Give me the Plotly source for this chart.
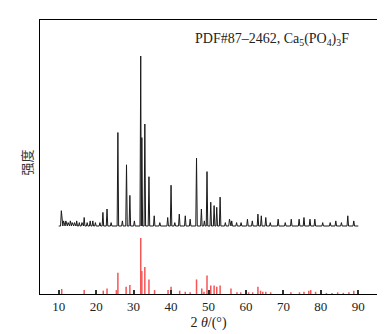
import plotly.graph_objects as go

# Measured XRD pattern: peak positions (2θ, °) and relative intensities (%)
meas_pos = [10.7, 11.3, 11.9, 12.5, 13.1, 13.6, 14.2, 14.8, 15.5, 16.2, 16.8, 17.6, 18.4, 19.1, 19.8,
            21.0, 21.8, 22.9, 24.0, 25.8, 27.0, 28.1, 29.0, 30.2, 31.9, 32.2, 33.0, 34.1, 35.5,
            37.0, 39.1, 40.0, 41.0, 42.2, 43.8, 45.1, 46.8, 48.1, 48.9, 49.6, 50.6, 51.5, 52.2,
            53.1, 54.5, 55.6, 56.2, 57.5, 58.7, 60.4, 61.7, 63.2, 64.1, 65.3, 66.5, 68.6, 70.5,
            72.1, 74.2, 75.5, 77.1, 78.4, 80.5, 82.5, 84.0, 85.5, 87.2, 88.8]
meas_int = [9, 3, 3, 2, 3, 2, 2, 3, 2, 2, 5, 2, 3, 3, 2,
            2, 8, 10, 2, 55, 3, 36, 18, 3, 100, 52, 60, 29, 6,
            2, 5, 24, 2, 7, 6, 4, 40, 10, 3, 32, 14, 12, 11,
            17, 2, 4, 3, 2, 2, 4, 3, 7, 6, 5, 2, 4, 2,
            4, 4, 5, 4, 4, 2, 2, 3, 2, 6, 3]

# Reference pattern PDF#87-2462 (stick lines)
ref_pos = [10.8, 16.8, 21.9, 22.9, 25.4, 25.8, 28.0, 29.0, 31.9, 32.2, 33.0, 34.1, 35.6,
           39.2, 40.0, 42.3, 43.8, 45.1, 46.8, 48.2, 48.8, 49.6, 50.6, 51.5, 52.2, 53.1,
           56.0, 57.6, 58.6, 60.0, 60.7, 61.8, 63.2, 63.9, 64.5, 65.3, 66.6, 72.0, 74.3,
           75.5, 76.8, 77.3, 78.6, 81.5, 83.0, 84.5, 86.0, 87.5, 88.8]
ref_int = [9, 7, 6, 10, 7, 38, 13, 16, 100, 41, 48, 26, 7,
           7, 13, 6, 4, 3, 26, 10, 4, 33, 15, 15, 13, 15,
           10, 3, 3, 4, 3, 3, 13, 6, 4, 4, 3, 3, 3,
           4, 6, 7, 4, 2, 2, 3, 2, 3, 6]

x_ticks = [10, 20, 30, 40, 50, 60, 70, 80, 90]

# vertical layout (stacking) parameters
meas_offset = 68
meas_scale = 1.7
ref_scale = 0.56
half_w = 0.2

peaks = sorted(zip(meas_pos, meas_int))
mx, my = [10.0], [meas_offset]
for i, (p, h) in enumerate(peaks):
    left = p - half_w
    right = p + half_w
    if i > 0:
        left = max(left, (peaks[i - 1][0] + p) / 2)
    if i < len(peaks) - 1:
        right = min(right, (peaks[i + 1][0] + p) / 2)
    mx += [left, p, right]
    my += [meas_offset, meas_offset + h * meas_scale, meas_offset]
mx.append(90.0)
my.append(meas_offset)

rx, ry = [], []
for p, h in zip(ref_pos, ref_int):
    rx += [p, p, None]
    ry += [0, h * ref_scale, None]

fig = go.Figure()
fig.add_trace(go.Scatter(x=rx, y=ry, mode="lines",
                         line=dict(color="rgb(245,85,85)", width=1.5),
                         showlegend=False, hoverinfo="skip"))
fig.add_trace(go.Scatter(x=mx, y=my, mode="lines",
                         line=dict(color="#1a1a1a", width=1),
                         showlegend=False))

fig.add_annotation(x=(343 - 32) / 337, y=0.93, xref="paper", yref="paper",
                   xanchor="right", yanchor="middle", showarrow=False,
                   text="PDF#87–2462, Ca<sub>5</sub>(PO<sub>4</sub>)<sub>3</sub>F",
                   font=dict(family="Liberation Serif", size=14, color="#222"))

# y-axis title placed as a rotated annotation
fig.add_annotation(x=(18 - 32) / 337, y=0.48, xref="paper", yref="paper",
                   xanchor="center", yanchor="middle", showarrow=False,
                   textangle=-90, text="强度",
                   font=dict(family="Noto Sans CJK SC", size=13, color="#333"))

fig.update_layout(
    width=385, height=334,
    margin=dict(l=32, r=16, t=12, b=48),
    paper_bgcolor="white", plot_bgcolor="white",
    font=dict(family="Liberation Serif", size=13, color="#222"),
    xaxis=dict(range=[5, 95], tickvals=x_ticks, ticks="inside", ticklen=4,
               tickcolor="#333", tickwidth=1.5,
               showline=True, linecolor="black", linewidth=1, mirror=True,
               showgrid=False, zeroline=False,
               tickfont=dict(family="Liberation Serif", size=13),
               title=dict(text="2 <i>θ</i>/(°)", standoff=4,
                          font=dict(family="Liberation Serif", size=14))),
    yaxis=dict(range=[0, 274], showticklabels=False, ticks="",
               showline=True, linecolor="black", linewidth=1, mirror=True,
               showgrid=False, zeroline=False),
)

fig.write_html("out.html")
